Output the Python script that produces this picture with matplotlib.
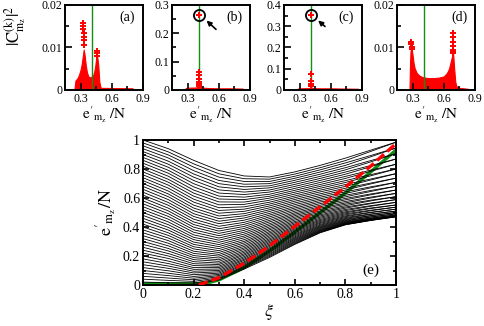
import matplotlib
matplotlib.use("Agg")
import matplotlib.pyplot as plt
from matplotlib.ticker import MultipleLocator, FixedLocator, FuncFormatter

plt.rcParams['font.family'] = ['Liberation Serif', 'DejaVu Serif']
plt.rcParams['mathtext.fontset'] = 'stix'

RED = '#ff0000'
GREEN = '#109010'

# ---- top panels: |C|^2 vs e'/N ----
e_mark = 0.41  # green vertical line

a_band_e = [0.24, 0.25, 0.27, 0.28, 0.29, 0.30, 0.31, 0.32, 0.33, 0.34, 0.35, 0.36, 0.37,
            0.38, 0.40, 0.42, 0.43, 0.44, 0.45, 0.46, 0.47, 0.475, 0.48, 0.49, 0.50, 0.80]
a_band_h = [0.0, 0.0022, 0.0028, 0.0033, 0.004, 0.0048, 0.006, 0.0078, 0.0095, 0.008, 0.0058, 0.0043, 0.0035,
            0.003, 0.003, 0.0034, 0.0042, 0.0055, 0.0075, 0.0078, 0.0058, 0.004, 0.002, 0.0007, 0.0005, 0.0004]
a_pts_e = [0.325, 0.325, 0.325, 0.33, 0.33, 0.33, 0.335, 0.455, 0.455, 0.455, 0.46]
a_pts_h = [0.0157, 0.0151, 0.0144, 0.0133, 0.0124, 0.0117, 0.0106, 0.0091, 0.0086, 0.0081, 0.0079]

b_band_e = [0.28, 0.30, 0.38, 0.41, 0.45, 0.50, 0.60, 0.70, 0.83]
b_band_h = [0.006, 0.008, 0.009, 0.012, 0.008, 0.007, 0.006, 0.006, 0.005]
b_pts_e = [0.41, 0.41, 0.41, 0.41, 0.41, 0.41, 0.41]
b_pts_h = [0.265, 0.065, 0.052, 0.040, 0.030, 0.020, 0.013]

c_band_e = [0.28, 0.30, 0.40, 0.41, 0.43, 0.50, 0.60, 0.70, 0.86]
c_band_h = [0.006, 0.008, 0.009, 0.012, 0.009, 0.008, 0.008, 0.007, 0.006]
c_pts_e = [0.41, 0.41, 0.41, 0.41, 0.41]
c_pts_h = [0.355, 0.075, 0.043, 0.030, 0.020]

d_band_e = [0.27, 0.275, 0.28, 0.29, 0.30, 0.31, 0.32, 0.34, 0.37, 0.40, 0.45, 0.50, 0.55,
            0.60, 0.63, 0.65, 0.66, 0.67, 0.68, 0.69, 0.70, 0.71, 0.72, 0.75, 0.83]
d_band_h = [0.0, 0.006, 0.0092, 0.0098, 0.0082, 0.0063, 0.0051, 0.004, 0.0033, 0.003, 0.0028, 0.0028, 0.0029,
            0.0032, 0.004, 0.005, 0.006, 0.007, 0.008, 0.0085, 0.005, 0.002, 0.0009, 0.0005, 0.0003]
d_pts_e = [0.285, 0.285, 0.29, 0.29, 0.69, 0.69, 0.69, 0.69, 0.69, 0.69, 0.69]
d_pts_h = [0.0114, 0.0108, 0.0102, 0.0096, 0.0133, 0.0124, 0.0114, 0.0104, 0.0095, 0.0089, 0.0086]

# circled points and arrows: (arrow head, arrow tail)
b_circle = (0.41, 0.265)
b_arrow = ((0.482, 0.245), (0.573, 0.214))
c_circle = (0.41, 0.355)
c_arrow = ((0.478, 0.327), (0.544, 0.299))

# ---- bottom panel: spectrum e'/N vs xi, one column of levels per xi value ----
xi_grid = [0.0, 0.1, 0.2, 0.3, 0.4, 0.5, 0.6, 0.7, 0.8, 0.9, 1.0]
levels = [
    [0.00, 0.02, 0.04, 0.06, 0.08, 0.10, 0.12, 0.14, 0.16, 0.18, 0.20, 0.22, 0.24, 0.26, 0.28, 0.30,
     0.32, 0.34, 0.36, 0.38, 0.40, 0.42, 0.44, 0.46, 0.48, 0.50, 0.52, 0.54, 0.56, 0.58, 0.60, 0.62,
     0.64, 0.66, 0.68, 0.70, 0.72, 0.74, 0.76, 0.78, 0.80, 0.82, 0.84, 0.86, 0.88, 0.90, 0.92, 0.94,
     0.96, 0.98, 1.00],
    [0.000, 0.016, 0.032, 0.048, 0.065, 0.081, 0.098, 0.115, 0.131, 0.148, 0.165, 0.183, 0.200, 0.217,
     0.235, 0.252, 0.270, 0.288, 0.306, 0.324, 0.342, 0.360, 0.379, 0.397, 0.416, 0.435, 0.454, 0.473,
     0.492, 0.511, 0.530, 0.550, 0.569, 0.589, 0.609, 0.628, 0.648, 0.668, 0.689, 0.709, 0.729, 0.750,
     0.771, 0.791, 0.812, 0.833, 0.854, 0.876, 0.897, 0.918, 0.940],
    [0.004, 0.014, 0.025, 0.036, 0.047, 0.059, 0.071, 0.083, 0.095, 0.108, 0.120, 0.134, 0.147, 0.161,
     0.175, 0.189, 0.203, 0.218, 0.233, 0.249, 0.264, 0.280, 0.296, 0.313, 0.329, 0.346, 0.364, 0.381,
     0.399, 0.417, 0.435, 0.454, 0.473, 0.492, 0.512, 0.531, 0.551, 0.572, 0.592, 0.613, 0.634, 0.655,
     0.677, 0.699, 0.721, 0.744, 0.766, 0.789, 0.813, 0.836, 0.860],
    [0.035, 0.042, 0.049, 0.057, 0.065, 0.073, 0.082, 0.091, 0.100, 0.110, 0.120, 0.130, 0.141, 0.151,
     0.163, 0.174, 0.186, 0.199, 0.211, 0.224, 0.237, 0.251, 0.265, 0.279, 0.294, 0.309, 0.324, 0.340,
     0.356, 0.372, 0.388, 0.405, 0.423, 0.440, 0.458, 0.476, 0.495, 0.514, 0.533, 0.553, 0.573, 0.593,
     0.613, 0.634, 0.656, 0.677, 0.699, 0.721, 0.744, 0.767, 0.790],
    [0.110, 0.117, 0.123, 0.130, 0.138, 0.145, 0.153, 0.161, 0.170, 0.178, 0.187, 0.196, 0.206, 0.215,
     0.225, 0.235, 0.246, 0.256, 0.267, 0.278, 0.290, 0.301, 0.313, 0.326, 0.338, 0.351, 0.364, 0.377,
     0.390, 0.404, 0.418, 0.432, 0.447, 0.462, 0.477, 0.492, 0.508, 0.523, 0.539, 0.556, 0.572, 0.589,
     0.606, 0.624, 0.641, 0.659, 0.677, 0.695, 0.714, 0.733, 0.752],
    [0.190, 0.197, 0.204, 0.211, 0.218, 0.226, 0.233, 0.241, 0.249, 0.257, 0.266, 0.274, 0.283, 0.292,
     0.301, 0.310, 0.319, 0.329, 0.339, 0.349, 0.359, 0.369, 0.380, 0.390, 0.401, 0.412, 0.423, 0.435,
     0.446, 0.458, 0.470, 0.482, 0.494, 0.507, 0.519, 0.532, 0.545, 0.558, 0.571, 0.585, 0.599, 0.612,
     0.626, 0.641, 0.655, 0.670, 0.684, 0.699, 0.714, 0.730, 0.745],
    [0.280, 0.285, 0.290, 0.296, 0.302, 0.308, 0.314, 0.320, 0.326, 0.333, 0.340, 0.347, 0.354, 0.362,
     0.370, 0.378, 0.386, 0.394, 0.402, 0.411, 0.420, 0.429, 0.438, 0.448, 0.458, 0.468, 0.478, 0.488,
     0.498, 0.509, 0.520, 0.531, 0.542, 0.554, 0.566, 0.578, 0.590, 0.602, 0.614, 0.627, 0.640, 0.653,
     0.666, 0.680, 0.694, 0.708, 0.722, 0.736, 0.750, 0.765, 0.780],
    [0.360, 0.363, 0.366, 0.370, 0.373, 0.377, 0.381, 0.386, 0.391, 0.396, 0.401, 0.406, 0.412, 0.418,
     0.425, 0.431, 0.438, 0.445, 0.452, 0.460, 0.468, 0.476, 0.484, 0.493, 0.502, 0.511, 0.521, 0.530,
     0.540, 0.550, 0.561, 0.572, 0.583, 0.594, 0.605, 0.617, 0.629, 0.642, 0.654, 0.667, 0.680, 0.693,
     0.707, 0.721, 0.735, 0.749, 0.764, 0.779, 0.794, 0.809, 0.825],
    [0.415, 0.417, 0.418, 0.421, 0.423, 0.426, 0.429, 0.432, 0.436, 0.440, 0.444, 0.449, 0.454, 0.459,
     0.465, 0.471, 0.477, 0.484, 0.491, 0.498, 0.505, 0.513, 0.521, 0.530, 0.538, 0.547, 0.557, 0.566,
     0.576, 0.587, 0.597, 0.608, 0.619, 0.631, 0.643, 0.655, 0.667, 0.680, 0.693, 0.707, 0.720, 0.735,
     0.749, 0.764, 0.779, 0.794, 0.809, 0.825, 0.842, 0.858, 0.875],
    [0.445, 0.446, 0.447, 0.450, 0.451, 0.454, 0.456, 0.460, 0.462, 0.468, 0.470, 0.477, 0.479, 0.487,
     0.490, 0.499, 0.502, 0.512, 0.516, 0.527, 0.531, 0.543, 0.547, 0.561, 0.565, 0.580, 0.585, 0.600,
     0.606, 0.622, 0.628, 0.645, 0.652, 0.670, 0.677, 0.697, 0.703, 0.724, 0.731, 0.753, 0.761, 0.784,
     0.792, 0.816, 0.824, 0.849, 0.858, 0.884, 0.893, 0.921, 0.930],
    [0.470, 0.471, 0.471, 0.473, 0.473, 0.477, 0.477, 0.483, 0.483, 0.491, 0.491, 0.500, 0.500, 0.510,
     0.510, 0.523, 0.523, 0.537, 0.537, 0.552, 0.552, 0.570, 0.570, 0.589, 0.589, 0.609, 0.609, 0.632,
     0.632, 0.655, 0.655, 0.681, 0.681, 0.708, 0.708, 0.737, 0.737, 0.768, 0.768, 0.800, 0.800, 0.833,
     0.833, 0.869, 0.869, 0.906, 0.906, 0.945, 0.945, 0.985, 0.985],
]

green_xi = [0.0, 0.1, 0.2, 0.25, 0.3, 0.4, 0.5, 0.6, 0.7, 0.8, 0.9, 1.0]
green_e = [0.008, 0.008, 0.008, 0.012, 0.035, 0.12, 0.235, 0.365, 0.50, 0.635, 0.78, 0.93]
red_xi = [0.22, 0.3, 0.4, 0.5, 0.6, 0.7, 0.8, 0.9, 1.0]
red_e = [0.0, 0.05, 0.15, 0.27, 0.405, 0.54, 0.675, 0.82, 0.975]


def fmt(v, pos):
    return '0' if abs(v) < 1e-9 else '%g' % v


W, H = 485.0, 326.0
fig = plt.figure(figsize=(4.85, 3.26), dpi=100)

top = [
    ('(a)', (65, 143), 0.02, 0.01, 0.005, a_band_e, a_band_h, a_pts_e, a_pts_h, None, None),
    ('(b)', (172, 250), 0.3, 0.1, 0.05, b_band_e, b_band_h, b_pts_e, b_pts_h, b_circle, b_arrow),
    ('(c)', (284, 362), 0.4, 0.1, 0.05, c_band_e, c_band_h, c_pts_e, c_pts_h, c_circle, c_arrow),
    ('(d)', (397, 475), 0.02, 0.01, 0.005, d_band_e, d_band_h, d_pts_e, d_pts_h, None, None),
]

for (lab, (x0, x1), ymax, ymaj, ymin, be, bh, pe, ph, circ, arr) in top:
    ax = fig.add_axes([x0 / W, 1 - 90 / H, (x1 - x0) / W, 85 / H])
    ax.fill_between(be, 0, bh, color=RED, lw=0.8, zorder=2)
    ax.axvline(e_mark, color=GREEN, lw=1.0, zorder=2.2)
    ax.plot(pe, ph, '+', color=RED, ms=3.8, mew=1.4, zorder=3)
    if circ is not None:
        ax.plot(*circ, 'o', mfc='none', mec='k', ms=8, mew=1.3, zorder=4)
        ax.annotate('', xy=arr[0], xytext=arr[1],
                    arrowprops=dict(arrowstyle='-|>', color='k', lw=1.2,
                                    mutation_scale=7, shrinkA=0, shrinkB=0))
    ax.set_xlim(0.15, 0.9)
    ax.set_ylim(0, ymax)
    ax.xaxis.set_major_locator(FixedLocator([0.3, 0.6, 0.9]))
    ax.xaxis.set_minor_locator(FixedLocator([0.45, 0.75]))
    ax.yaxis.set_major_locator(MultipleLocator(ymaj))
    ax.yaxis.set_minor_locator(MultipleLocator(ymin))
    ax.xaxis.set_major_formatter(FuncFormatter(fmt))
    ax.yaxis.set_major_formatter(FuncFormatter(fmt))
    ax.tick_params(which='both', direction='in', width=1.2, labelsize=8.5, pad=2)
    ax.tick_params(which='major', length=5)
    ax.tick_params(which='minor', length=3)
    ax.set_axisbelow(False)
    for s in ax.spines.values():
        s.set_linewidth(1.4)
    ax.set_xlabel(r"$\mathrm{e}'_{\mathrm{m_z}}\ /\mathrm{N}$", fontsize=11, labelpad=0)
    ax.text(0.8, 0.86, lab, transform=ax.transAxes, ha='center', va='center', fontsize=10)

fig.text(15 / W, 1 - 26 / H, r"$|\mathrm{C}^{(\mathrm{k})}_{\mathrm{m_z}}|^2$", rotation=90,
         ha='center', va='center', fontsize=12)

# bottom panel
ax = fig.add_axes([143 / W, 1 - 285 / H, 253 / W, 145 / H])
for k in range(len(levels[0])):
    ax.plot(xi_grid, [col[k] for col in levels], color='k', lw=0.6, zorder=2)
ax.plot(green_xi, green_e, color=GREEN, lw=2.4, zorder=1.9, solid_capstyle='butt')
ax.plot(red_xi, red_e, color=RED, lw=2.4, ls=(0, (2.8, 1.3)), zorder=3)
ax.set_xlim(0, 1)
ax.set_ylim(0, 1)
ax.xaxis.set_major_locator(MultipleLocator(0.2))
ax.xaxis.set_minor_locator(MultipleLocator(0.1))
ax.yaxis.set_major_locator(MultipleLocator(0.2))
ax.yaxis.set_minor_locator(MultipleLocator(0.1))
ax.xaxis.set_major_formatter(FuncFormatter(fmt))
ax.yaxis.set_major_formatter(FuncFormatter(fmt))
ax.tick_params(which='both', direction='in', width=1.2, labelsize=10, pad=2,
               top=True, right=True)
ax.tick_params(which='major', length=4.5)
ax.tick_params(which='minor', length=2.5)
ax.set_axisbelow(False)
for s in ax.spines.values():
    s.set_linewidth(1.4)
ax.set_xlabel(r"$\xi$", fontsize=13, labelpad=1)
ax.set_ylabel(r"$\mathrm{e}'_{\mathrm{m_z}}/\mathrm{N}$", fontsize=13, labelpad=3)
ax.text(0.9, 0.1, '(e)', transform=ax.transAxes, ha='center', va='center', fontsize=11)

fig.savefig('out.png', dpi=100)
